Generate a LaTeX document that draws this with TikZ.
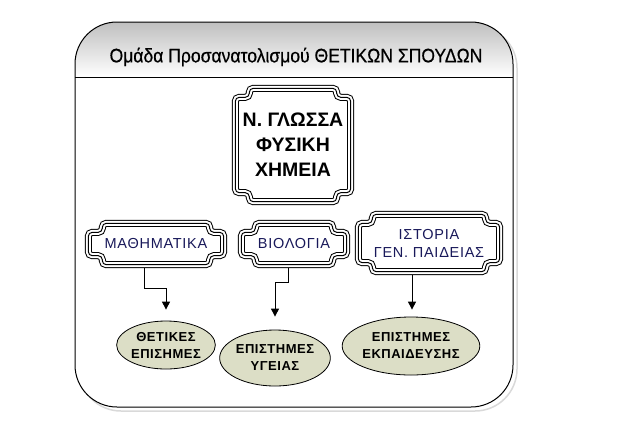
\documentclass[tikz,border=0pt]{standalone}
\usepackage{fontspec}
\setmainfont{Liberation Sans}
\newfontfamily\titlefont[FakeStretch=0.9,FakeBold=0.5]{Liberation Sans}
\newfontfamily\boxfont[LetterSpace=5]{Liberation Sans}
\newfontfamily\ellfont[LetterSpace=4]{Liberation Sans}
\usetikzlibrary{shapes.geometric,arrows.meta,calc}
\definecolor{ellfill}{RGB}{220,222,198}
\definecolor{txtblue}{RGB}{25,25,90}
\newcommand\plaque[1]{%
  \foreach \lw/\col in {7/black,5/white,1/black}{%
    \draw[line width=\lw pt, draw=\col, rounded corners=4pt]
      ($(#1.north)+(0,3.5)$) -- ($(#1.north east)+(-17.5,3.5)$)
      -- ($(#1.north east)+(-17.5,12.5)$) -- ($(#1.north east)+(-3.5,12.5)$)
      -- ($(#1.south east)+(-3.5,-12.5)$) -- ($(#1.south east)+(-17.5,-12.5)$)
      -- ($(#1.south east)+(-17.5,-3.5)$) -- ($(#1.south west)+(17.5,-3.5)$)
      -- ($(#1.south west)+(17.5,-12.5)$) -- ($(#1.south west)+(3.5,-12.5)$)
      -- ($(#1.north west)+(3.5,12.5)$) -- ($(#1.north west)+(17.5,12.5)$)
      -- ($(#1.north west)+(17.5,3.5)$) -- cycle;
  }}
\begin{document}
\begin{tikzpicture}[x=1pt,y=-1pt,
  box/.style={inner sep=0pt, align=center, font=\boxfont\fontsize{14.5pt}{18pt}\selectfont, text=txtblue},
  outcome/.style={ellipse, draw=black, line width=0.8pt, fill=ellfill, inner sep=0pt, align=center,
    font=\ellfont\bfseries\fontsize{13pt}{17pt}\selectfont},
  conn/.style={line width=1pt, -{Triangle[width=8pt,length=8pt]}}]
\useasboundingbox (0,0) rectangle (631,421);
% outer frame with shadow
\draw[gray!30, line width=1.5pt, rounded corners=42pt] (79,26) rectangle (517,411);
\fill[white, rounded corners=42pt] (75,22) rectangle (513,407);
\shade[top color=gray!50, bottom color=white]
  (75,77) -- (75,64) arc[start angle=180, end angle=270, radius=42]
  -- (471,22) arc[start angle=270, end angle=360, radius=42] -- (513,77) -- cycle;
\draw[line width=1pt] (75,77) -- (513,77);
\draw[line width=1pt, rounded corners=42pt] (75,22) rectangle (513,407);
\node[font=\titlefont\fontsize{19.5pt}{22pt}\selectfont] (title) at (296,57) {Ομάδα Προσανατολισμού ΘΕΤΙΚΩΝ ΣΠΟΥΔΩΝ};
% plaques
\node[box, minimum width=122pt, minimum height=120pt, text=black,
  font=\bfseries\fontsize{19.5pt}{25pt}\selectfont] (n) at (293,145) {Ν. ΓΛΩΣΣΑ\\ΦΥΣΙΚΗ\\ΧΗΜΕΙΑ};
\plaque{n}
\node[box, minimum width=142pt, minimum height=48pt] (m) at (156,244) {ΜΑΘΗΜΑΤΙΚΑ};
\plaque{m}
\node[box, minimum width=112pt, minimum height=48pt] (b) at (294,244) {ΒΙΟΛΟΓΙΑ};
\plaque{b}
\node[box, minimum width=148pt, minimum height=64pt] (i) at (429,243) {ΙΣΤΟΡΙΑ\\ΓΕΝ. ΠΑΙΔΕΙΑΣ};
\plaque{i}
% outcomes
\node[outcome, minimum width=94pt, minimum height=48pt] (e1) at (166,345) {ΘΕΤΙΚΕΣ\\ΕΠΙΣΗΜΕΣ};
\node[outcome, minimum width=95pt, minimum height=56pt] (e2) at (275,358) {ΕΠΙΣΤΗΜΕΣ\\ΥΓΕΙΑΣ};
\node[outcome, minimum width=133pt, minimum height=58pt] (e3) at (411,346) {ΕΠΙΣΤΗΜΕΣ\\ΕΚΠΑΙΔΕΥΣΗΣ};
% connectors
\coordinate (ma) at ([xshift=-12pt]m.south);
\coordinate (ba) at ([xshift=-6pt]b.south);
\coordinate (ia) at ([xshift=-17pt]i.south);
\coordinate (e1t) at ([yshift=11pt]e1.north);
\coordinate (e2t) at ([yshift=13pt]e2.north);
\coordinate (e3t) at ([yshift=7pt]e3.north);
\draw[conn] (ma) -- ++(0,20) -| (e1t);
\draw[conn] (ba) -- ++(0,14) -| (e2t);
\draw[conn] (ia) -- (ia |- e3t);
\end{tikzpicture}
\end{document}
